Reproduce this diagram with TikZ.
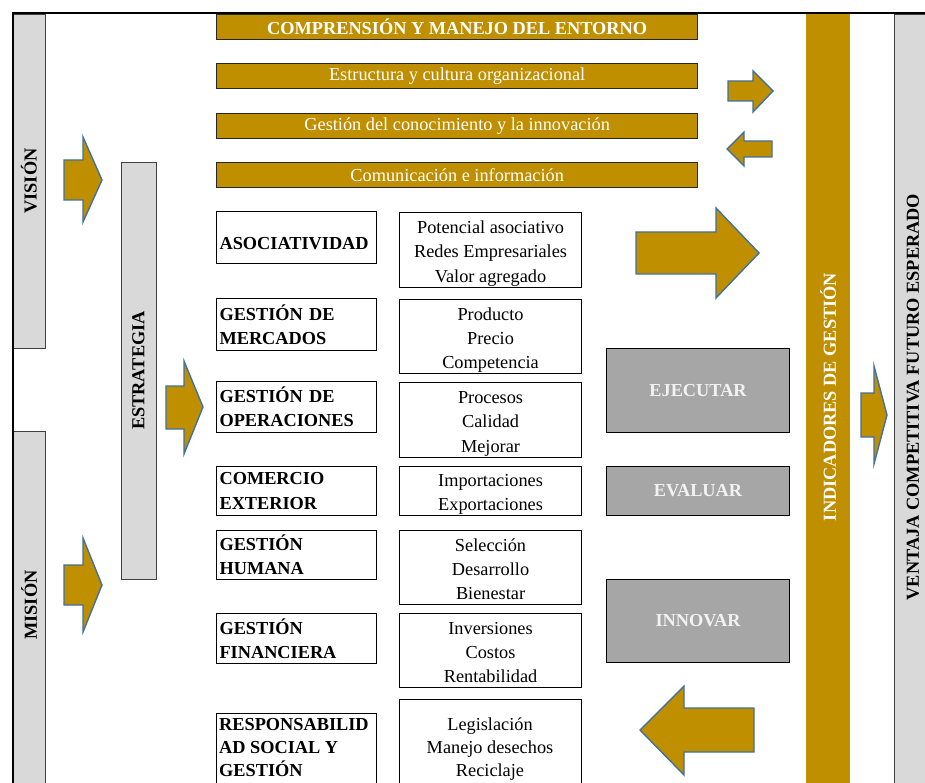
\documentclass[tikz,border=0pt]{standalone}
\usepackage{fontspec}
\setmainfont{Liberation Serif}
\definecolor{gold}{RGB}{191,143,0}
\definecolor{panelgray}{RGB}{217,217,217}
\definecolor{actgray}{RGB}{166,166,166}
\definecolor{arrowedge}{RGB}{65,113,156}
\newcommand\txtsize{\fontsize{18.3}{24.2}\selectfont}
\newcommand\boldtxt{\fontsize{18.3}{24.2}\selectfont\bfseries}
% centred stack of lines, drawn slightly below the centre of its box
\newcommand\itemlines[1]{\raisebox{-3pt}[\height][\depth]{\begin{tabular}{@{}c@{}}#1\end{tabular}}}

\tikzset{
  goldbar/.style={draw=black!85, line width=1.3pt, fill=gold, minimum width=481pt,
    minimum height=25pt, anchor=north west, text=white, inner sep=0pt},
  catbox/.style={draw=black, line width=1.1pt, fill=white, minimum width=160pt,
    text width=154pt, inner xsep=3pt, inner ysep=0pt, align=left, anchor=north west, font=\boldtxt},
  itembox/.style={draw=black, line width=1.1pt, fill=white, minimum width=182pt,
    inner sep=0pt, anchor=north west, font=\txtsize},
  actbox/.style={draw=black, line width=1.1pt, fill=actgray, minimum width=183pt,
    anchor=north west, text=white!95!black, font=\boldtxt, inner sep=0pt},
  panel/.style={draw=black!75, line width=0.9pt, fill=panelgray, inner sep=0pt},
  sidetext/.style={rotate=90, font=\boldtxt, inner sep=0pt},
  blockarrow/.style={fill=gold, draw=arrowedge, line width=1.4pt, line join=miter},
}

\begin{document}
\begin{tikzpicture}[x=1pt, y=-1pt]
\useasboundingbox (0,0) rectangle (925,783);
\clip (0,0) rectangle (925,783);
\fill[white] (0,0) rectangle (925,783);

% side panels: vision, mission and strategy
\node[panel, rotate=90, minimum width=334pt, minimum height=32pt, font=\boldtxt] (vision) at (29,181) {VISIÓN};
\node[panel, minimum width=32pt, minimum height=370pt, anchor=north west] (mision) at (13,431) {};
\node[sidetext] (mision-t) at (29,605) {MISIÓN};
\node[panel, rotate=90, minimum width=417pt, minimum height=35pt, font=\boldtxt] (estrategia) at (138.5,370.5) {ESTRATEGIA};

% management indicators bar and expected competitive advantage
\node[fill=gold, minimum width=44pt, minimum height=790pt, anchor=north west, inner sep=0pt] (indicadores) at (806,14) {};
\node[sidetext, text=white] (indicadores-t) at (828,397) {INDICADORES DE GESTIÓN};
\node[panel, minimum width=40pt, minimum height=790pt, anchor=north west] (ventaja) at (894,14) {};
\node[sidetext] (ventaja-t) at (913,397) {VENTAJA COMPETITIVA FUTURO ESPERADO};

% outer frame
\draw[line width=2pt] (925,13) -- (12.5,13) -- (12.5,783);

% top bars
\node[goldbar, font=\boldtxt] (entorno) at (216,14) {COMPRENSIÓN Y MANEJO DEL ENTORNO};
\node[goldbar, font=\txtsize] (estructura) at (216,63) {Estructura y cultura organizacional};
\node[goldbar, font=\txtsize] (conocimiento) at (216,113) {Gestión del conocimiento y la innovación};
\node[goldbar, font=\txtsize] (comunicacion) at (216,162) {Comunicación e información};

% management areas
\node[catbox, minimum height=52pt] (asoc) at (216,211) {\raisebox{-12pt}[0pt][0pt]{ASOCIATIVIDAD}};
\node[catbox, minimum height=52pt] (merc) at (216,298) {GESTIÓN DE\\MERCADOS};
\node[catbox, minimum height=51pt] (oper) at (216,381) {GESTIÓN DE\\OPERACIONES};
\node[catbox, minimum height=49pt] (come) at (216,466) {COMERCIO\\EXTERIOR};
\node[catbox, minimum height=49pt] (huma) at (216,530) {GESTIÓN\\HUMANA};
\node[catbox, minimum height=50pt] (fina) at (216,613) {GESTIÓN\\FINANCIERA};
\node[catbox, minimum height=90pt] (resp) at (216,713) {};
\node[anchor=north west, font=\fontsize{18.3}{23}\selectfont\bfseries, align=left, inner sep=0pt] (resp-t) at (219,718) {RESPONSABILID\\AD SOCIAL Y\\GESTIÓN};

% area contents
\node[itembox, minimum height=75pt] (asoc-i) at (399,212) {\itemlines{Potencial asociativo\\Redes Empresariales\\Valor agregado}};
\node[itembox, minimum height=74pt] (merc-i) at (399,299) {\itemlines{Producto\\Precio\\Competencia}};
\node[itembox, minimum height=75pt] (oper-i) at (399,382) {\itemlines{Procesos\\Calidad\\Mejorar}};
\node[itembox, minimum height=49pt] (come-i) at (399,466) {\itemlines{Importaciones\\Exportaciones}};
\node[itembox, minimum height=74pt] (huma-i) at (399,530) {\itemlines{Selección\\Desarrollo\\Bienestar}};
\node[itembox, minimum height=74pt] (fina-i) at (399,613) {\itemlines{Inversiones\\Costos\\Rentabilidad}};
\node[itembox, minimum height=100pt] (resp-i) at (399,699) {};
\node[anchor=north, font=\fontsize{18.3}{23}\selectfont, align=center, inner sep=0pt] (resp-it) at (490,718) {Legislación\\Manejo desechos\\Reciclaje};

% action boxes
\node[actbox, minimum height=84pt] (ejecutar) at (606,348) {EJECUTAR};
\node[actbox, minimum height=49pt] (evaluar) at (606,466) {EVALUAR};
\node[actbox, minimum height=83pt] (innovar) at (606,579) {INNOVAR};

% block arrows
\draw[blockarrow] (64,160) -- (83,160) -- (83,137) -- (102,180) -- (83,222) -- (83,200) -- (64,200) -- cycle;
\draw[blockarrow] (64,565) -- (83,565) -- (83,538) -- (102,585) -- (83,632) -- (83,605) -- (64,605) -- cycle;
\draw[blockarrow] (166,386) -- (184,386) -- (184,361) -- (203,407) -- (184,454) -- (184,429) -- (166,429) -- cycle;
\draw[blockarrow] (728,81) -- (753,81) -- (753,71) -- (773,91) -- (753,112) -- (753,101) -- (728,101) -- cycle;
\draw[blockarrow] (772,141) -- (744,141) -- (744,132) -- (727,149) -- (744,166) -- (744,157) -- (772,157) -- cycle;
\draw[blockarrow] (636,232) -- (716,232) -- (716,208) -- (759,253) -- (716,298) -- (716,274) -- (636,274) -- cycle;
\draw[blockarrow] (754,708) -- (684,708) -- (684,686) -- (640,730) -- (684,775) -- (684,752) -- (754,752) -- cycle;
\draw[blockarrow] (861,393) -- (874,393) -- (874,366) -- (887,415) -- (874,464) -- (874,437) -- (861,437) -- cycle;
\end{tikzpicture}
\end{document}
